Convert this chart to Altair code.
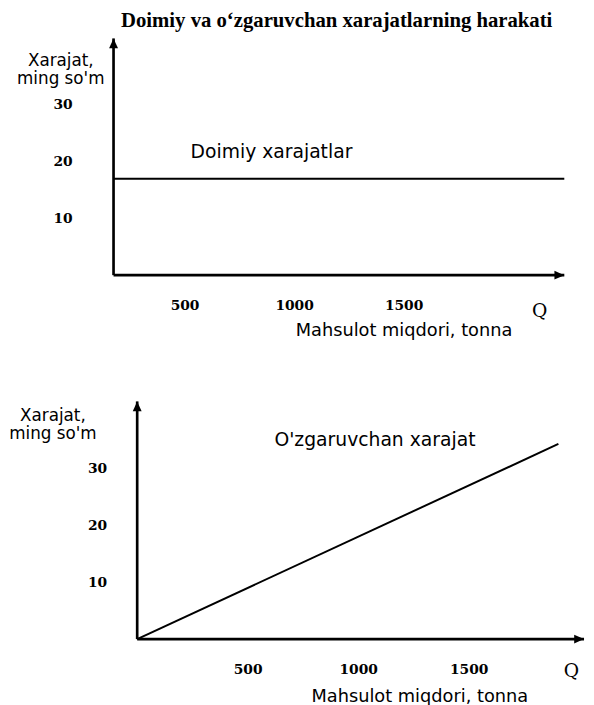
import altair as alt
import pandas as pd

# ---- text ----
title_text = "Doimiy va o‘zgaruvchan xarajatlarning harakati"
y_title = ["Xarajat,", "ming so'm"]
x_title = "Mahsulot miqdori, tonna"
q_symbol = "Q"

# ---- axis ticks ----
x_ticks = [500, 1000, 1500]
y_ticks = [10, 20, 30]

# ---- top panel: fixed costs ----
fixed_q = [0, 2058]
fixed_cost = [17, 17]
fixed_label = "Doimiy xarajatlar"
fixed_label_q = [721]
fixed_label_cost = [21.7]
top_q_label_q = [1946]
top_q_label_cost = [-6.3]
top_q_min = 0
top_q_max = 2058
top_cost_max = 41.7

# ---- bottom panel: variable costs ----
var_q = [0, 1906]
var_cost = [0, 34.4]
var_label = "O'zgaruvchan xarajat"
var_label_q = [1076]
var_label_cost = [35]
bot_q_label_q = [1965]
bot_q_label_cost = [-5.7]
bot_q_min = -107
bot_q_max = 2022
bot_cost_max = 41.9

UP = "M0,0L-0.9,2L0.9,2Z"
RIGHT = "M0,0L-2,-0.9L-2,0.9Z"


def panel(line_q, line_cost, label, lab_q, lab_c, ql_q, ql_c, q_min, q_max, c_max,
          width, height, x_lab_off, x_tx, x_ty, y_off, y_pad, y_tx, y_ty):
    xs = alt.Scale(domain=[q_min, q_max], nice=False, zero=False)
    ys = alt.Scale(domain=[0, c_max], nice=False, zero=False)
    xaxis = alt.Axis(
        values=x_ticks, format="d", title=x_title, labelOffset=x_lab_off, labelPadding=24,
        labelFont="DejaVu Serif", labelFontWeight="bold", labelFontSize=14,
        labelColor="black", labelAngle=0, ticks=False, grid=False, domain=False,
        titleFont="DejaVu Sans", titleFontSize=18, titleFontWeight="normal",
        titleColor="black", titleX=x_tx, titleY=x_ty, titleAlign="center",
        titleBaseline="middle",
    )
    yaxis = alt.Axis(
        values=y_ticks, title=y_title, offset=y_off, labelPadding=y_pad,
        labelFont="DejaVu Serif", labelFontWeight="bold", labelFontSize=14,
        labelColor="black", ticks=False, grid=False, domain=False,
        titleFont="DejaVu Sans", titleFontSize=17, titleFontWeight="normal",
        titleColor="black", titleAngle=0, titleX=y_tx, titleY=y_ty,
        titleAlign="center", titleBaseline="middle", titleLineHeight=19,
    )
    X = alt.X("q:Q", scale=xs, axis=xaxis)
    Y = alt.Y("cost:Q", scale=ys, axis=yaxis)

    yrule_df = pd.DataFrame({"q": [0], "cost": [0], "cost2": [c_max]})
    yrule = alt.Chart(yrule_df).mark_rule(color="black", strokeWidth=2.7).encode(
        x=X, y=Y, y2="cost2:Q")
    xrule_df = pd.DataFrame({"q": [0], "q2": [q_max], "cost": [0]})
    xrule = alt.Chart(xrule_df).mark_rule(color="black", strokeWidth=2.7).encode(
        x=X, x2="q2:Q", y=Y)

    line_df = pd.DataFrame({"q": line_q, "cost": line_cost})
    line = alt.Chart(line_df).mark_line(color="black", strokeWidth=2).encode(x=X, y=Y)

    up_df = pd.DataFrame({"q": [0], "cost": [c_max]})
    up = alt.Chart(up_df).mark_point(shape=UP, size=100, filled=True, color="black",
                                      opacity=1, strokeWidth=0).encode(x=X, y=Y)
    right_df = pd.DataFrame({"q": [q_max], "cost": [0]})
    right = alt.Chart(right_df).mark_point(shape=RIGHT, size=100, filled=True, color="black",
                                           opacity=1, strokeWidth=0).encode(x=X, y=Y)

    lab_df = pd.DataFrame({"q": lab_q, "cost": lab_c, "t": [label]})
    lab = alt.Chart(lab_df).mark_text(font="DejaVu Sans", fontSize=19, color="black",
                                      align="center", baseline="middle").encode(x=X, y=Y, text="t:N")

    ql_df = pd.DataFrame({"q": ql_q, "cost": ql_c, "t": [q_symbol]})
    ql = alt.Chart(ql_df).mark_text(font="DejaVu Serif", fontSize=19, color="black",
                                    align="center", baseline="middle").encode(x=X, y=Y, text="t:N")

    return alt.layer(line, yrule, xrule, up, right, lab, ql).properties(width=width, height=height)


top = panel(fixed_q, fixed_cost, fixed_label, fixed_label_q, fixed_label_cost,
            top_q_label_q, top_q_label_cost, top_q_min, top_q_max, top_cost_max,
            457, 240, -39, 294, 56, 0, 42, -54, 22)
bottom = panel(var_q, var_cost, var_label, var_label_q, var_label_cost,
               bot_q_label_q, bot_q_label_cost, bot_q_min, bot_q_max, bot_cost_max,
               477, 241, 0, 310, 58, -24, 31, -86, 14)

chart = alt.vconcat(top, bottom, spacing=61).properties(
    title=alt.TitleParams(text=title_text, font="Liberation Serif", fontSize=21,
                          fontWeight="bold", anchor="start", dx=114, offset=6,
                          color="black"),
    padding={"left": 0, "top": -3, "right": 0, "bottom": 0},
).configure(background="white", view=alt.ViewConfig(stroke=None))

chart.save("out.html", embed_options={"renderer": "svg", "actions": False})
